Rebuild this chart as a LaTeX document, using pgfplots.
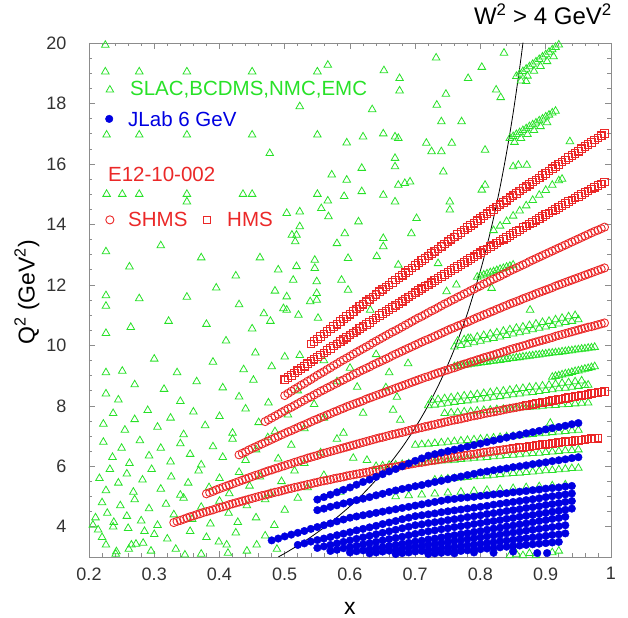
\documentclass[border=0pt]{standalone}
\usepackage{fontspec}
\setmainfont{Liberation Sans}
\usepackage{pgfplots}
\pgfplotsset{compat=1.18}
\definecolor{tgreen}{RGB}{40,225,40}
\definecolor{tblue}{RGB}{0,0,225}
\definecolor{tred}{RGB}{235,40,40}
\definecolor{framegray}{RGB}{140,140,140}
\pgfplotsset{
  slacmk/.style={only marks, color=tgreen, mark=triangle, mark size=4.4pt, line width=0.8pt},
  jlabmk/.style={only marks, color=tblue, mark=*, mark size=3.8pt},
  shmsmk/.style={only marks, color=tred, mark=o, mark size=4.1pt, line width=0.9pt},
  hmsmk/.style={only marks, color=tred, mark=square, mark size=3.8pt, line width=1.1pt},
}
\begin{document}
\begin{tikzpicture}
\begin{axis}[
  scale only axis, width=522bp, height=514bp,
  xmin=0.2, xmax=1, ymin=3, ymax=20,
  xtick={0.2,0.3,0.4,0.5,0.6,0.7,0.8,0.9,1},
  xticklabels={0.2,0.3,0.4,0.5,0.6,0.7,0.8,0.9,1},
  ytick={4,6,8,10,12,14,16,18,20},
  minor x tick num=4, minor y tick num=3,
  tick align=inside,
  major tick length=6bp, minor tick length=3.5bp,
  axis line style={framegray, line width=0.7pt},
  every tick/.style={framegray, line width=0.6pt},
  tick label style={font=\fontsize{18bp}{20bp}\selectfont, text=black!80},
  xticklabel style={yshift=-7bp},
  yticklabel style={xshift=-19bp},
  /pgf/number format/assume math mode=true,
  xlabel={x},
  xlabel style={font=\fontsize{23bp}{25bp}\selectfont, at={(axis description cs:0.5,0)}, anchor=base, yshift=-57bp},
  ylabel={Q\textsuperscript{2} (GeV\textsuperscript{2})},
  ylabel style={font=\fontsize{23bp}{25bp}\selectfont, at={(axis description cs:-0.119,0.515)}, anchor=center},
]
% ---------- SLAC, BCDMS, NMC, EMC : scattered points ----------
\addplot[slacmk] coordinates {
(0.225,19.93)(0.225,19.05)(0.277,19.05)(0.350,19.05)(0.450,19.05)(0.550,19.05)(0.566,19.27)(0.652,19.09)(0.676,18.83)(0.676,18.42)(0.732,19.51)(0.747,18.31)(0.781,18.83)(0.802,19.2)(0.836,19.67)(0.824,18.45)(0.831,18.2)(0.870,18.73)
(0.523,17.9)(0.634,17.8)(0.733,17.95)(0.740,17.4)(0.771,17.4)
(0.227,16.96)(0.277,16.96)(0.350,16.96)(0.450,16.96)(0.550,16.96)(0.595,16.7)(0.620,16.9)(0.651,17.0)(0.669,16.9)(0.674,16.85)(0.717,16.69)(0.725,16.41)(0.740,16.41)(0.756,16.69)(0.807,16.46)(0.937,16.74)(0.477,16.35)
(0.669,16.19)(0.669,15.91)(0.618,15.86)(0.572,15.64)(0.743,15.74)(0.595,15.47)(0.674,15.3)(0.684,15.36)(0.692,15.41)(0.802,15.14)(0.807,15.3)(0.850,15.91)(0.858,15.96)(0.871,15.96)
(0.227,15.0)(0.251,15.0)(0.277,15.0)(0.350,15.0)(0.436,15.0)(0.450,15.0)(0.550,15.0)(0.591,14.93)(0.618,15.09)(0.651,14.97)(0.350,14.75)(0.566,14.78)(0.556,14.53)(0.503,14.37)(0.523,14.42)(0.567,14.26)(0.669,14.75)(0.702,14.2)(0.753,14.75)(0.753,14.48)(0.613,14.09)
(0.523,13.93)(0.511,13.65)(0.518,13.65)(0.592,13.7)(0.516,13.43)(0.580,13.37)(0.651,13.27)(0.651,13.54)(0.694,13.7)
(0.546,12.82)(0.546,12.55)(0.597,12.88)(0.641,12.94)(0.735,12.71)(0.518,12.61)(0.513,12.16)(0.503,11.61)(0.498,11.22)(0.503,11.17)(0.549,12.11)(0.549,11.72)(0.539,11.45)(0.549,11.5)(0.587,12.16)(0.597,11.83)(0.674,12.66)(0.748,11.78)(0.763,12.0)(0.817,11.89)(0.521,11.0)(0.551,10.9)(0.631,11.17)(0.876,11.17)(0.781,10.23)(0.500,9.62)(0.523,9.67)(0.689,9.4)
(0.611,8.62)(0.672,8.29)(0.666,7.86)(0.677,7.53)(0.620,7.76)(0.605,6.27)(0.626,6.2)(0.907,7.43)
(0.226,13.1)(0.262,12.6)(0.31,13.3)(0.372,12.9)(0.425,12.3)(0.462,12.9)(0.49,12.5)
(0.226,11.65)(0.226,11.3)(0.277,11.55)(0.35,11.6)(0.395,11.9)(0.43,11.35)(0.468,11.05)(0.485,11.8)
(0.226,10.4)(0.264,10.6)(0.322,10.8)(0.38,10.7)(0.41,10.15)(0.45,10.55)(0.478,10.8)
(0.226,9.1)(0.251,9.15)(0.3,9.55)(0.335,9.1)(0.39,9.45)(0.437,9.2)(0.455,9.75)(0.48,9.3)(0.56,9.5)(0.60,9.25)(0.64,9.7)(0.66,9.1)
(0.226,8.4)(0.245,8.2)(0.27,8.7)(0.315,8.55)(0.34,8.15)(0.365,8.8)(0.405,8.6)(0.43,8.3)(0.452,8.85)(0.475,8.1)(0.52,8.5)(0.545,8.05)(0.58,8.8)(0.655,8.6)
(0.222,7.4)(0.237,7.75)(0.255,7.2)(0.27,7.55)(0.29,7.85)(0.305,7.3)(0.325,7.6)(0.345,7.05)(0.36,7.8)(0.378,7.35)(0.4,7.65)(0.42,7.1)(0.44,7.9)(0.46,7.45)(0.485,7.15)(0.505,7.7)(0.53,7.25)(0.56,7.6)(0.59,7.1)
(0.222,6.8)(0.236,6.3)(0.25,6.6)(0.262,6.1)(0.278,6.85)(0.292,6.35)(0.31,6.6)(0.325,6.15)(0.34,6.75)(0.355,6.4)(0.372,6.05)(0.39,6.65)(0.405,6.3)(0.42,6.9)(0.44,6.2)(0.456,6.55)(0.474,6.95)(0.49,6.25)(0.51,6.7)(0.53,6.1)(0.555,6.45)(0.58,6.9)
(0.216,5.6)(0.226,5.2)(0.232,5.9)(0.245,5.45)(0.258,5.75)(0.268,5.15)(0.282,5.55)(0.296,5.9)(0.31,5.25)(0.326,5.65)(0.34,5.05)(0.352,5.45)(0.368,5.85)(0.384,5.3)(0.4,5.6)(0.415,5.1)(0.43,5.8)(0.446,5.35)(0.462,5.65)(0.478,5.1)(0.495,5.5)(0.515,5.85)(0.535,5.3)(0.56,5.7)(0.585,5.15)
(0.21,4.3)(0.22,4.8)(0.228,4.45)(0.238,4.15)(0.248,4.7)(0.258,4.35)(0.27,4.9)(0.28,4.2)(0.292,4.6)(0.305,4.05)(0.318,4.75)(0.33,4.4)(0.345,4.95)(0.358,4.25)(0.372,4.65)(0.386,4.1)(0.4,4.85)(0.414,4.45)(0.428,4.15)(0.442,4.7)(0.456,4.3)(0.47,4.9)(0.484,4.05)(0.5,4.55)(0.52,4.95)
(0.206,4.06)(0.214,3.9)(0.237,4.0)(0.26,3.95)(0.226,3.4)(0.242,3.18)(0.265,3.4)(0.241,3.1)(0.261,3.26)(0.272,3.43)(0.283,3.46)(0.295,3.2)(0.333,3.26)(0.347,3.07)(0.372,3.1)(0.399,3.5)(0.411,3.4)(0.413,3.13)(0.442,3.2)(0.457,3.4)(0.488,3.26)(0.3,3.75)(0.32,3.6)(0.355,3.85)(0.38,3.65)(0.425,3.8)(0.47,3.7)(0.22,3.65)(0.285,3.85)
};
% ---------- SLAC etc. : dense bands ----------
\addplot[slacmk] coordinates {
(0.855,18.90)(0.86,18.98)(0.865,19.06)(0.87,19.14)(0.875,19.22)(0.88,19.30)(0.885,19.38)(0.89,19.46)(0.895,19.54)(0.90,19.62)(0.905,19.70)(0.91,19.78)(0.915,19.86)(0.92,19.94)
(0.862,18.75)(0.872,18.91)(0.882,19.07)(0.892,19.23)(0.902,19.39)(0.912,19.55)
(0.845,16.85)(0.85,16.91)(0.855,16.98)(0.86,17.04)(0.865,17.11)(0.87,17.17)(0.875,17.24)(0.88,17.30)(0.885,17.36)(0.89,17.43)(0.895,17.49)(0.90,17.56)(0.905,17.62)(0.91,17.69)(0.915,17.75)
(0.852,16.72)(0.862,16.85)(0.872,16.98)(0.882,17.11)(0.892,17.24)(0.902,17.37)
(0.82,13.8)(0.83,13.95)(0.84,14.1)(0.85,14.28)(0.86,14.45)(0.87,14.62)(0.88,14.8)(0.89,14.97)(0.90,15.13)(0.91,15.3)(0.92,15.45)(0.925,15.5)
(0.795,12.26)(0.80,12.30)(0.805,12.33)(0.81,12.37)(0.815,12.41)(0.82,12.44)(0.825,12.48)(0.83,12.52)(0.835,12.55)(0.84,12.59)(0.845,12.62)(0.85,12.66)
(0.76,9.95)(0.77,10.00)(0.78,10.04)(0.79,10.09)(0.80,10.14)(0.81,10.19)(0.82,10.23)(0.83,10.28)(0.84,10.33)(0.85,10.38)(0.86,10.42)(0.87,10.47)(0.88,10.52)(0.89,10.57)(0.90,10.61)(0.91,10.66)(0.92,10.71)(0.93,10.76)(0.94,10.80)(0.95,10.85)
(0.765,10.14)(0.775,10.19)(0.785,10.23)(0.795,10.28)(0.805,10.33)(0.815,10.38)(0.825,10.42)(0.835,10.47)(0.845,10.52)(0.855,10.57)(0.865,10.61)(0.875,10.66)(0.885,10.71)(0.895,10.76)(0.905,10.80)(0.915,10.85)(0.925,10.90)(0.935,10.95)(0.945,10.99)
(0.76,9.30)(0.77,9.33)(0.78,9.36)(0.79,9.39)(0.80,9.42)(0.81,9.45)(0.82,9.48)(0.83,9.51)(0.84,9.54)(0.85,9.57)(0.86,9.60)(0.87,9.63)(0.88,9.66)(0.89,9.69)(0.90,9.72)(0.91,9.75)(0.92,9.77)(0.93,9.80)(0.94,9.83)(0.95,9.86)(0.96,9.89)(0.97,9.92)(0.975,9.94)
(0.765,9.32)(0.775,9.35)(0.785,9.38)(0.795,9.41)(0.805,9.44)(0.815,9.47)(0.825,9.50)(0.835,9.53)(0.845,9.56)(0.855,9.59)(0.865,9.62)(0.875,9.65)(0.885,9.68)(0.895,9.71)(0.905,9.74)(0.915,9.76)(0.925,9.79)(0.935,9.82)(0.945,9.85)(0.955,9.88)(0.965,9.91)
(0.91,8.95)(0.915,8.98)(0.92,9.0)(0.925,9.03)(0.93,9.06)(0.935,9.08)(0.94,9.11)(0.945,9.14)(0.95,9.16)(0.955,9.19)(0.96,9.22)(0.965,9.24)(0.97,9.27)(0.975,9.30)
(0.72,8.01)(0.73,8.03)(0.74,8.06)(0.75,8.09)(0.76,8.12)(0.77,8.15)(0.78,8.17)(0.79,8.20)(0.80,8.23)(0.81,8.26)(0.82,8.29)(0.83,8.31)(0.84,8.34)(0.85,8.37)(0.86,8.40)(0.87,8.43)(0.88,8.45)(0.89,8.48)(0.90,8.51)(0.91,8.54)(0.92,8.57)(0.93,8.59)(0.94,8.62)(0.95,8.65)(0.96,8.68)(0.965,8.69)
(0.725,8.19)(0.735,8.21)(0.745,8.24)(0.755,8.27)(0.765,8.30)(0.775,8.33)(0.785,8.35)(0.795,8.38)(0.805,8.41)(0.815,8.44)(0.825,8.47)(0.835,8.49)(0.845,8.52)(0.855,8.55)(0.865,8.58)(0.875,8.61)(0.885,8.63)(0.895,8.66)(0.905,8.69)(0.915,8.72)(0.925,8.75)(0.935,8.77)(0.945,8.80)(0.955,8.83)
(0.745,7.75)(0.755,7.77)(0.765,7.78)(0.775,7.80)(0.785,7.81)(0.795,7.83)(0.805,7.85)(0.815,7.86)(0.825,7.88)(0.835,7.89)(0.845,7.91)(0.855,7.93)(0.865,7.94)(0.875,7.96)(0.885,7.97)(0.895,7.99)(0.905,8.01)(0.915,8.02)(0.925,8.04)(0.935,8.05)(0.945,8.07)(0.955,8.09)(0.965,8.10)
(0.70,6.70)(0.71,6.72)(0.72,6.74)(0.73,6.76)(0.74,6.78)(0.75,6.80)(0.76,6.82)(0.77,6.84)(0.78,6.86)(0.79,6.88)(0.80,6.90)(0.81,6.92)(0.82,6.94)(0.83,6.96)(0.84,6.98)(0.85,7.00)(0.86,7.02)(0.87,7.04)(0.88,7.06)(0.89,7.08)(0.90,7.10)(0.91,7.12)(0.92,7.14)(0.93,7.16)(0.94,7.18)(0.95,7.20)
(0.64,6.00)(0.65,6.02)(0.66,6.04)(0.67,6.05)(0.68,6.07)(0.69,6.09)(0.70,6.11)(0.71,6.12)(0.72,6.14)(0.73,6.16)(0.74,6.18)(0.75,6.19)(0.76,6.21)(0.77,6.23)(0.78,6.25)(0.79,6.27)(0.80,6.28)(0.81,6.30)(0.82,6.32)(0.83,6.34)(0.84,6.36)(0.85,6.37)(0.86,6.39)(0.87,6.41)(0.88,6.43)(0.89,6.44)(0.90,6.46)(0.91,6.48)(0.92,6.50)(0.93,6.52)(0.94,6.53)(0.95,6.55)
(0.73,5.55)(0.74,5.57)(0.75,5.59)(0.76,5.60)(0.77,5.62)(0.78,5.64)(0.79,5.66)(0.80,5.68)(0.81,5.69)(0.82,5.71)(0.83,5.73)(0.84,5.75)(0.85,5.77)(0.86,5.78)(0.87,5.80)(0.88,5.82)(0.89,5.84)(0.90,5.86)(0.91,5.87)(0.92,5.89)(0.93,5.91)(0.94,5.93)(0.95,5.94)
(0.67,5.00)(0.69,5.03)(0.71,5.06)(0.73,5.09)(0.75,5.12)(0.77,5.15)(0.79,5.18)(0.81,5.21)(0.83,5.24)(0.85,5.27)(0.87,5.30)(0.89,5.33)(0.91,5.36)(0.93,5.39)
(0.845,3.05)(0.855,3.1)(0.865,3.05)(0.875,3.12)(0.885,3.05)(0.91,3.15)(0.92,3.2)
};
% ---------- E12-10-002 SHMS (circles) ----------
\addplot[shmsmk] coordinates {
(0.33,4.14)(0.34,4.21)(0.35,4.29)(0.36,4.36)(0.37,4.43)(0.38,4.50)(0.39,4.56)(0.40,4.63)(0.41,4.69)(0.42,4.76)(0.43,4.82)(0.44,4.88)(0.45,4.94)(0.46,5.00)(0.47,5.05)(0.48,5.11)(0.49,5.16)(0.50,5.22)(0.51,5.27)(0.52,5.32)(0.53,5.37)(0.54,5.42)(0.55,5.47)(0.56,5.52)(0.57,5.56)(0.58,5.61)(0.59,5.65)(0.60,5.70)(0.61,5.74)(0.62,5.78)(0.63,5.82)(0.64,5.87)(0.65,5.91)(0.66,5.95)(0.67,5.98)(0.68,6.02)(0.69,6.06)(0.70,6.10)(0.71,6.13)(0.72,6.17)(0.73,6.20)(0.74,6.24)(0.75,6.27)(0.76,6.31)(0.77,6.34)(0.78,6.37)(0.79,6.40)(0.80,6.44)(0.81,6.47)(0.82,6.50)(0.83,6.53)(0.84,6.56)(0.85,6.59)(0.86,6.62)
(0.335,4.18)(0.345,4.25)(0.355,4.33)(0.365,4.40)(0.375,4.47)(0.385,4.53)(0.395,4.60)(0.405,4.66)(0.415,4.73)(0.425,4.79)(0.435,4.85)(0.445,4.91)(0.455,4.97)(0.465,5.03)(0.475,5.08)(0.485,5.14)(0.495,5.19)(0.505,5.25)(0.515,5.30)(0.525,5.35)(0.535,5.40)(0.545,5.45)(0.555,5.50)(0.565,5.54)(0.575,5.59)(0.585,5.63)(0.595,5.68)(0.605,5.72)(0.615,5.76)(0.625,5.80)(0.635,5.85)(0.645,5.89)(0.655,5.93)(0.665,5.97)(0.675,6.00)(0.685,6.04)(0.695,6.08)(0.705,6.12)(0.715,6.15)(0.725,6.19)(0.735,6.22)(0.745,6.26)(0.755,6.29)(0.765,6.33)(0.775,6.36)(0.785,6.39)(0.795,6.42)(0.805,6.46)(0.815,6.49)(0.825,6.52)(0.835,6.55)(0.845,6.58)(0.855,6.61)
(0.38,5.09)(0.39,5.17)(0.40,5.26)(0.41,5.34)(0.42,5.42)(0.43,5.50)(0.44,5.58)(0.45,5.66)(0.46,5.73)(0.47,5.81)(0.48,5.88)(0.49,5.95)(0.50,6.02)(0.51,6.09)(0.52,6.16)(0.53,6.23)(0.54,6.30)(0.55,6.36)(0.56,6.43)(0.57,6.49)(0.58,6.55)(0.59,6.61)(0.60,6.67)(0.61,6.73)(0.62,6.79)(0.63,6.85)(0.64,6.91)(0.65,6.96)(0.66,7.02)(0.67,7.07)(0.68,7.12)(0.69,7.18)(0.70,7.23)(0.71,7.28)(0.72,7.33)(0.73,7.38)(0.74,7.43)(0.75,7.48)(0.76,7.53)(0.77,7.57)(0.78,7.62)(0.79,7.67)(0.80,7.71)(0.81,7.76)(0.82,7.80)(0.83,7.84)(0.84,7.89)(0.85,7.93)(0.86,7.97)(0.87,8.01)(0.88,8.05)
(0.385,5.13)(0.395,5.22)(0.405,5.30)(0.415,5.38)(0.425,5.46)(0.435,5.54)(0.445,5.62)(0.455,5.70)(0.465,5.77)(0.475,5.85)(0.485,5.92)(0.495,5.99)(0.505,6.06)(0.515,6.13)(0.525,6.20)(0.535,6.27)(0.545,6.33)(0.555,6.40)(0.565,6.46)(0.575,6.52)(0.585,6.58)(0.595,6.64)(0.605,6.70)(0.615,6.76)(0.625,6.82)(0.635,6.88)(0.645,6.94)(0.655,6.99)(0.665,7.05)(0.675,7.10)(0.685,7.15)(0.695,7.21)(0.705,7.26)(0.715,7.31)(0.725,7.36)(0.735,7.41)(0.745,7.46)(0.755,7.51)(0.765,7.55)(0.775,7.60)(0.785,7.65)(0.795,7.69)(0.805,7.74)(0.815,7.78)(0.825,7.82)(0.835,7.87)(0.845,7.91)(0.855,7.95)(0.865,7.99)(0.875,8.03)
(0.43,6.38)(0.44,6.48)(0.45,6.59)(0.46,6.69)(0.47,6.79)(0.48,6.89)(0.49,6.99)(0.50,7.09)(0.51,7.18)(0.52,7.28)(0.53,7.37)(0.54,7.47)(0.55,7.56)(0.56,7.65)(0.57,7.74)(0.58,7.83)(0.59,7.92)(0.60,8.01)(0.61,8.09)(0.62,8.17)(0.63,8.26)(0.64,8.34)(0.65,8.42)(0.66,8.50)(0.67,8.58)(0.68,8.66)(0.69,8.74)(0.70,8.82)(0.71,8.90)(0.72,8.97)(0.73,9.05)(0.74,9.12)(0.75,9.19)(0.76,9.26)(0.77,9.34)(0.78,9.41)(0.79,9.48)(0.80,9.55)(0.81,9.62)(0.82,9.68)(0.83,9.75)(0.84,9.82)(0.85,9.89)(0.86,9.95)(0.87,10.01)(0.88,10.08)(0.89,10.14)(0.90,10.20)(0.91,10.26)(0.92,10.33)(0.93,10.39)(0.94,10.45)(0.95,10.51)(0.96,10.57)(0.97,10.62)(0.98,10.68)(0.99,10.74)
(0.435,6.43)(0.445,6.54)(0.455,6.64)(0.465,6.74)(0.475,6.84)(0.485,6.94)(0.495,7.04)(0.505,7.14)(0.515,7.23)(0.525,7.33)(0.535,7.42)(0.545,7.52)(0.555,7.61)(0.565,7.70)(0.575,7.79)(0.585,7.88)(0.595,7.97)(0.605,8.05)(0.615,8.13)(0.625,8.22)(0.635,8.30)(0.645,8.38)(0.655,8.46)(0.665,8.54)(0.675,8.62)(0.685,8.70)(0.695,8.78)(0.705,8.86)(0.715,8.94)(0.725,9.01)(0.735,9.09)(0.745,9.16)(0.755,9.23)(0.765,9.30)(0.775,9.38)(0.785,9.45)(0.795,9.52)(0.805,9.59)(0.815,9.65)(0.825,9.72)(0.835,9.79)(0.845,9.86)(0.855,9.92)(0.865,9.98)(0.875,10.05)(0.885,10.11)(0.895,10.17)(0.905,10.23)(0.915,10.30)(0.925,10.36)(0.935,10.42)(0.945,10.48)(0.955,10.54)(0.965,10.60)(0.975,10.65)(0.985,10.71)
(0.47,7.48)(0.48,7.60)(0.49,7.72)(0.50,7.84)(0.51,7.95)(0.52,8.07)(0.53,8.19)(0.54,8.30)(0.55,8.42)(0.56,8.53)(0.57,8.64)(0.58,8.75)(0.59,8.86)(0.60,8.97)(0.61,9.08)(0.62,9.19)(0.63,9.29)(0.64,9.40)(0.65,9.50)(0.66,9.60)(0.67,9.71)(0.68,9.81)(0.69,9.91)(0.70,10.01)(0.71,10.11)(0.72,10.20)(0.73,10.30)(0.74,10.40)(0.75,10.50)(0.76,10.59)(0.77,10.68)(0.78,10.77)(0.79,10.87)(0.80,10.96)(0.81,11.05)(0.82,11.14)(0.83,11.23)(0.84,11.32)(0.85,11.41)(0.86,11.49)(0.87,11.58)(0.88,11.66)(0.89,11.75)(0.90,11.83)(0.91,11.91)(0.92,12.00)(0.93,12.08)(0.94,12.16)(0.95,12.24)(0.96,12.32)(0.97,12.40)(0.98,12.48)(0.99,12.56)
(0.475,7.54)(0.485,7.66)(0.495,7.78)(0.505,7.90)(0.515,8.01)(0.525,8.13)(0.535,8.25)(0.545,8.36)(0.555,8.48)(0.565,8.59)(0.575,8.70)(0.585,8.81)(0.595,8.92)(0.605,9.03)(0.615,9.14)(0.625,9.24)(0.635,9.35)(0.645,9.45)(0.655,9.55)(0.665,9.66)(0.675,9.76)(0.685,9.86)(0.695,9.96)(0.705,10.06)(0.715,10.16)(0.725,10.25)(0.735,10.35)(0.745,10.45)(0.755,10.55)(0.765,10.64)(0.775,10.73)(0.785,10.82)(0.795,10.92)(0.805,11.01)(0.815,11.10)(0.825,11.19)(0.835,11.28)(0.845,11.37)(0.855,11.45)(0.865,11.54)(0.875,11.62)(0.885,11.71)(0.895,11.79)(0.905,11.87)(0.915,11.96)(0.925,12.04)(0.935,12.12)(0.945,12.20)(0.955,12.28)(0.965,12.36)(0.975,12.44)(0.985,12.52)
(0.50,8.34)(0.51,8.48)(0.52,8.61)(0.53,8.74)(0.54,8.87)(0.55,9.01)(0.56,9.13)(0.57,9.26)(0.58,9.39)(0.59,9.52)(0.60,9.64)(0.61,9.77)(0.62,9.89)(0.63,10.01)(0.64,10.14)(0.65,10.26)(0.66,10.38)(0.67,10.49)(0.68,10.61)(0.69,10.73)(0.70,10.85)(0.71,10.96)(0.72,11.08)(0.73,11.19)(0.74,11.31)(0.75,11.42)(0.76,11.53)(0.77,11.64)(0.78,11.75)(0.79,11.86)(0.80,11.97)(0.81,12.08)(0.82,12.19)(0.83,12.29)(0.84,12.40)(0.85,12.51)(0.86,12.61)(0.87,12.71)(0.88,12.82)(0.89,12.92)(0.90,13.02)(0.91,13.12)(0.92,13.22)(0.93,13.32)(0.94,13.42)(0.95,13.52)(0.96,13.62)(0.97,13.72)(0.98,13.81)(0.99,13.91)
(0.505,8.41)(0.515,8.55)(0.525,8.68)(0.535,8.81)(0.545,8.94)(0.555,9.07)(0.565,9.20)(0.575,9.33)(0.585,9.46)(0.595,9.58)(0.605,9.71)(0.615,9.83)(0.625,9.95)(0.635,10.08)(0.645,10.20)(0.655,10.32)(0.665,10.44)(0.675,10.55)(0.685,10.67)(0.695,10.79)(0.705,10.91)(0.715,11.02)(0.725,11.14)(0.735,11.25)(0.745,11.37)(0.755,11.48)(0.765,11.59)(0.775,11.70)(0.785,11.81)(0.795,11.92)(0.805,12.03)(0.815,12.14)(0.825,12.24)(0.835,12.35)(0.845,12.46)(0.855,12.56)(0.865,12.66)(0.875,12.77)(0.885,12.87)(0.895,12.97)(0.905,13.07)(0.915,13.17)(0.925,13.27)(0.935,13.37)(0.945,13.47)(0.955,13.57)(0.965,13.67)(0.975,13.77)(0.985,13.86)
(0.58,10.05)(0.59,10.19)(0.60,10.34)(0.61,10.48)(0.62,10.62)(0.67,11.32)(0.68,11.46)(0.69,11.60)(0.70,11.74)(0.71,11.87)(0.72,12.00)
(0.61,11.20)(0.62,11.36)(0.63,11.52)(0.64,11.68)(0.65,11.85)(0.72,12.96)(0.73,13.11)(0.74,13.27)(0.75,13.43)(0.76,13.58)(0.83,14.65)(0.84,14.80)(0.85,14.95)(0.86,15.10)(0.87,15.25)
};
% ---------- E12-10-002 HMS (squares) ----------
\addplot[hmsmk] coordinates {
(0.85,6.59)(0.86,6.62)(0.87,6.64)(0.88,6.67)(0.89,6.70)(0.90,6.73)(0.91,6.75)(0.92,6.78)(0.93,6.81)(0.94,6.83)(0.95,6.86)(0.96,6.88)(0.97,6.91)(0.98,6.93)
(0.865,6.63)(0.875,6.66)(0.885,6.69)(0.895,6.72)(0.905,6.74)(0.915,6.77)(0.925,6.80)(0.935,6.82)(0.945,6.85)(0.955,6.87)(0.965,6.90)(0.975,6.92)
(0.87,8.01)(0.88,8.05)(0.89,8.09)(0.90,8.13)(0.91,8.17)(0.92,8.21)(0.93,8.25)(0.94,8.29)(0.95,8.33)(0.96,8.36)(0.97,8.40)(0.98,8.44)(0.99,8.47)
(0.885,8.07)(0.895,8.11)(0.905,8.15)(0.915,8.19)(0.925,8.23)(0.935,8.27)(0.945,8.31)(0.955,8.35)(0.965,8.38)(0.975,8.42)(0.985,8.46)
(0.50,8.86)(0.51,9.01)(0.52,9.16)(0.53,9.31)(0.54,9.46)(0.55,9.61)(0.56,9.75)(0.57,9.90)(0.58,10.05)(0.59,10.19)(0.60,10.34)(0.61,10.48)(0.62,10.62)(0.63,10.76)(0.64,10.91)(0.65,11.05)(0.66,11.18)(0.67,11.32)(0.68,11.46)(0.69,11.60)(0.70,11.74)(0.71,11.87)(0.72,12.00)(0.73,12.14)(0.74,12.27)(0.75,12.41)(0.76,12.54)(0.77,12.67)(0.78,12.80)(0.79,12.93)(0.80,13.06)(0.81,13.19)(0.82,13.32)(0.83,13.45)(0.84,13.57)(0.85,13.70)(0.86,13.82)(0.87,13.95)(0.88,14.07)(0.89,14.20)(0.90,14.32)(0.91,14.44)(0.92,14.56)(0.93,14.69)(0.94,14.81)(0.95,14.93)(0.96,15.05)(0.97,15.17)(0.98,15.28)(0.99,15.40)
(0.505,8.94)(0.515,9.09)(0.525,9.24)(0.535,9.39)(0.545,9.54)(0.555,9.68)(0.565,9.83)(0.575,9.98)(0.585,10.12)(0.595,10.27)(0.605,10.41)(0.615,10.55)(0.625,10.69)(0.635,10.84)(0.645,10.98)(0.655,11.12)(0.665,11.25)(0.675,11.39)(0.685,11.53)(0.695,11.67)(0.705,11.81)(0.715,11.94)(0.725,12.07)(0.735,12.21)(0.745,12.34)(0.755,12.48)(0.765,12.61)(0.775,12.74)(0.785,12.87)(0.795,13.00)(0.805,13.13)(0.815,13.26)(0.825,13.39)(0.835,13.51)(0.845,13.64)(0.855,13.76)(0.865,13.89)(0.875,14.01)(0.885,14.14)(0.895,14.26)(0.905,14.38)(0.915,14.50)(0.925,14.63)(0.935,14.75)(0.945,14.87)(0.955,14.99)(0.965,15.11)(0.975,15.23)(0.985,15.34)
(0.54,10.04)(0.55,10.21)(0.56,10.37)(0.57,10.54)(0.58,10.70)(0.59,10.87)(0.60,11.03)(0.61,11.20)(0.62,11.36)(0.63,11.52)(0.64,11.68)(0.65,11.85)(0.66,12.00)(0.67,12.16)(0.68,12.32)(0.69,12.48)(0.70,12.64)(0.71,12.80)(0.72,12.96)(0.73,13.11)(0.74,13.27)(0.75,13.43)(0.76,13.58)(0.77,13.73)(0.78,13.89)(0.79,14.04)(0.80,14.20)(0.81,14.35)(0.82,14.50)(0.83,14.65)(0.84,14.80)(0.85,14.95)(0.86,15.10)(0.87,15.25)(0.88,15.40)(0.89,15.54)(0.90,15.69)(0.91,15.84)(0.92,15.98)(0.93,16.13)(0.94,16.28)(0.95,16.42)(0.96,16.57)(0.97,16.71)(0.98,16.86)(0.99,17.00)
(0.545,10.13)(0.555,10.29)(0.565,10.46)(0.575,10.62)(0.585,10.79)(0.595,10.95)(0.605,11.12)(0.615,11.28)(0.625,11.44)(0.635,11.60)(0.645,11.77)(0.655,11.93)(0.665,12.08)(0.675,12.24)(0.685,12.40)(0.695,12.56)(0.705,12.72)(0.715,12.88)(0.725,13.04)(0.735,13.19)(0.745,13.35)(0.755,13.51)(0.765,13.66)(0.775,13.81)(0.785,13.97)(0.795,14.12)(0.805,14.28)(0.815,14.43)(0.825,14.58)(0.835,14.73)(0.845,14.88)(0.855,15.03)(0.865,15.18)(0.875,15.33)(0.885,15.47)(0.895,15.62)(0.905,15.77)(0.915,15.91)(0.925,16.06)(0.935,16.21)(0.945,16.35)(0.955,16.50)(0.965,16.64)(0.975,16.79)(0.985,16.93)
};
% ---------- JLab 6 GeV ----------
\addplot[jlabmk] coordinates {
(0.55,4.90)(0.56,4.98)(0.57,5.06)(0.58,5.14)(0.59,5.22)(0.60,5.30)(0.61,5.39)(0.62,5.48)(0.63,5.56)(0.64,5.65)(0.65,5.74)(0.66,5.83)(0.67,5.91)(0.68,6.00)(0.69,6.09)(0.70,6.18)(0.71,6.26)(0.72,6.35)(0.73,6.40)(0.74,6.45)(0.75,6.50)(0.76,6.55)(0.77,6.60)(0.78,6.65)(0.79,6.70)(0.80,6.75)(0.81,6.80)(0.82,6.85)(0.83,6.90)(0.84,6.95)(0.85,7.00)(0.86,7.04)(0.87,7.09)(0.88,7.13)(0.89,7.17)(0.90,7.22)(0.91,7.26)(0.92,7.30)(0.93,7.34)(0.94,7.39)(0.95,7.43)
(0.55,4.55)(0.56,4.60)(0.57,4.66)(0.58,4.71)(0.59,4.77)(0.60,4.82)(0.61,4.88)(0.62,4.93)(0.63,4.98)(0.64,5.04)(0.65,5.09)(0.66,5.15)(0.67,5.20)(0.68,5.25)(0.69,5.29)(0.70,5.34)(0.71,5.38)(0.72,5.43)(0.73,5.48)(0.74,5.52)(0.75,5.57)(0.76,5.62)(0.77,5.66)(0.78,5.71)(0.79,5.75)(0.80,5.80)(0.81,5.83)(0.82,5.87)(0.83,5.90)(0.84,5.93)(0.85,5.97)(0.86,6.00)(0.87,6.03)(0.88,6.07)(0.89,6.10)(0.90,6.13)(0.91,6.17)(0.92,6.20)(0.93,6.23)(0.94,6.27)(0.95,6.30)
(0.48,3.55)(0.49,3.61)(0.50,3.68)(0.51,3.74)(0.52,3.80)(0.53,3.86)(0.54,3.93)(0.55,3.99)(0.56,4.05)(0.57,4.11)(0.58,4.18)(0.59,4.24)(0.60,4.30)(0.61,4.34)(0.62,4.38)(0.63,4.42)(0.64,4.46)(0.65,4.50)(0.66,4.54)(0.67,4.58)(0.68,4.62)(0.69,4.66)(0.70,4.70)(0.71,4.74)(0.72,4.78)(0.73,4.82)(0.74,4.86)(0.75,4.90)(0.76,4.92)(0.77,4.95)(0.78,4.97)(0.79,4.99)(0.80,5.02)(0.81,5.04)(0.82,5.07)(0.83,5.09)(0.84,5.11)(0.85,5.14)(0.86,5.16)(0.87,5.18)(0.88,5.21)(0.89,5.23)(0.90,5.26)(0.91,5.28)(0.92,5.30)(0.93,5.33)(0.94,5.35)
(0.52,3.40)(0.53,3.45)(0.54,3.51)(0.55,3.56)(0.56,3.61)(0.57,3.66)(0.58,3.72)(0.59,3.77)(0.60,3.82)(0.61,3.88)(0.62,3.93)(0.63,3.98)(0.64,4.03)(0.65,4.09)(0.66,4.14)(0.67,4.19)(0.68,4.25)(0.69,4.30)(0.70,4.35)(0.71,4.38)(0.72,4.41)(0.73,4.44)(0.74,4.48)(0.75,4.51)(0.76,4.54)(0.77,4.57)(0.78,4.60)(0.79,4.63)(0.80,4.66)(0.81,4.69)(0.82,4.73)(0.83,4.76)(0.84,4.79)(0.85,4.82)(0.86,4.85)(0.87,4.88)(0.88,4.91)(0.89,4.94)(0.90,4.98)(0.91,5.01)(0.92,5.04)(0.93,5.07)(0.94,5.10)
(0.55,3.30)(0.56,3.35)(0.57,3.40)(0.58,3.45)(0.59,3.50)(0.60,3.55)(0.61,3.60)(0.62,3.65)(0.63,3.70)(0.64,3.75)(0.65,3.80)(0.66,3.85)(0.67,3.90)(0.68,3.95)(0.69,4.00)(0.70,4.05)(0.71,4.08)(0.72,4.12)(0.73,4.15)(0.74,4.18)(0.75,4.22)(0.76,4.25)(0.77,4.28)(0.78,4.32)(0.79,4.35)(0.80,4.38)(0.81,4.42)(0.82,4.45)(0.83,4.48)(0.84,4.52)(0.85,4.55)(0.86,4.58)(0.87,4.62)(0.88,4.65)(0.89,4.68)(0.90,4.72)(0.91,4.75)(0.92,4.78)(0.93,4.82)(0.94,4.85)
(0.57,3.20)(0.58,3.24)(0.59,3.29)(0.60,3.33)(0.61,3.37)(0.62,3.42)(0.63,3.46)(0.64,3.50)(0.65,3.55)(0.66,3.59)(0.67,3.63)(0.68,3.67)(0.69,3.72)(0.70,3.76)(0.71,3.81)(0.72,3.85)(0.73,3.88)(0.74,3.92)(0.75,3.95)(0.76,3.99)(0.77,4.02)(0.78,4.05)(0.79,4.09)(0.80,4.12)(0.81,4.16)(0.82,4.19)(0.83,4.22)(0.84,4.26)(0.85,4.29)(0.86,4.33)(0.87,4.36)(0.88,4.39)(0.89,4.43)(0.90,4.46)(0.91,4.50)(0.92,4.53)(0.93,4.56)(0.94,4.60)
(0.60,3.15)(0.61,3.19)(0.62,3.22)(0.63,3.26)(0.64,3.29)(0.65,3.33)(0.66,3.36)(0.67,3.40)(0.68,3.44)(0.69,3.47)(0.70,3.51)(0.71,3.54)(0.72,3.58)(0.73,3.61)(0.74,3.65)(0.75,3.69)(0.76,3.72)(0.77,3.76)(0.78,3.79)(0.79,3.83)(0.80,3.86)(0.81,3.90)(0.82,3.94)(0.83,3.97)(0.84,4.01)(0.85,4.04)(0.86,4.08)(0.87,4.11)(0.88,4.15)(0.89,4.19)(0.90,4.22)(0.91,4.26)(0.92,4.29)(0.93,4.33)
(0.63,3.12)(0.64,3.15)(0.65,3.18)(0.66,3.21)(0.67,3.24)(0.68,3.28)(0.69,3.31)(0.70,3.34)(0.71,3.37)(0.72,3.40)(0.73,3.43)(0.74,3.46)(0.75,3.50)(0.76,3.53)(0.77,3.56)(0.78,3.59)(0.79,3.62)(0.80,3.65)(0.81,3.68)(0.82,3.71)(0.83,3.74)(0.84,3.78)(0.85,3.81)(0.86,3.84)(0.87,3.87)(0.88,3.90)(0.89,3.93)(0.90,3.96)(0.91,3.99)(0.92,4.02)(0.93,4.05)
(0.67,3.10)(0.68,3.13)(0.69,3.15)(0.70,3.18)(0.71,3.20)(0.72,3.23)(0.73,3.26)(0.74,3.28)(0.75,3.31)(0.76,3.33)(0.77,3.36)(0.78,3.39)(0.79,3.41)(0.80,3.44)(0.81,3.46)(0.82,3.49)(0.83,3.52)(0.84,3.54)(0.85,3.57)(0.86,3.60)(0.87,3.62)(0.88,3.65)(0.89,3.67)(0.90,3.70)(0.91,3.73)(0.92,3.75)(0.93,3.78)
(0.72,3.10)(0.73,3.12)(0.74,3.14)(0.75,3.16)(0.76,3.18)(0.77,3.20)(0.78,3.22)(0.79,3.24)(0.80,3.26)(0.81,3.28)(0.82,3.30)(0.83,3.32)(0.84,3.34)(0.85,3.36)(0.86,3.38)(0.87,3.40)(0.88,3.42)(0.89,3.44)(0.90,3.46)(0.91,3.48)(0.92,3.50)
(0.76,3.12)(0.79,3.15)(0.82,3.14)(0.85,3.18)(0.887,3.13)(0.902,3.13)
};
% ---------- W^2 = 4 GeV^2 ----------
\addplot[black, line width=0.8pt, no marks, smooth] coordinates {
(0.49,3.00)(0.50,3.12)(0.52,3.38)(0.54,3.66)(0.56,3.97)(0.58,4.31)(0.60,4.68)(0.62,5.09)(0.64,5.55)(0.66,6.06)(0.68,6.63)(0.70,7.28)(0.72,8.02)(0.74,8.88)(0.76,9.88)(0.78,11.06)(0.80,12.48)(0.81,13.30)(0.82,14.21)(0.83,15.23)(0.84,16.38)(0.85,17.68)(0.86,19.17)(0.8651,20.01)
};
% ---------- legend symbols ----------
\addplot[slacmk] coordinates {(0.232,18.45)};
\addplot[jlabmk] coordinates {(0.231,17.49)};
\addplot[shmsmk] coordinates {(0.232,14.15)};
\addplot[hmsmk] coordinates {(0.381,14.15)};
\node[anchor=west, inner sep=0pt, text=tgreen, font=\fontsize{20.5bp}{22bp}\selectfont] at (axis cs:0.2628,18.45) {SLAC,BCDMS,NMC,EMC};
\node[anchor=west, inner sep=0pt, text=tblue, font=\fontsize{20.5bp}{22bp}\selectfont] at (axis cs:0.2598,17.49) {JLab 6 GeV};
\node[anchor=west, inner sep=0pt, text=tred, font=\fontsize{20.5bp}{22bp}\selectfont] at (axis cs:0.229,15.64) {E12-10-002};
\node[anchor=west, inner sep=0pt, text=tred, font=\fontsize{20.5bp}{22bp}\selectfont] at (axis cs:0.2598,14.15) {SHMS};
\node[anchor=west, inner sep=0pt, text=tred, font=\fontsize{20.5bp}{22bp}\selectfont] at (axis cs:0.4115,14.15) {HMS};
\end{axis}
\node[anchor=base east, inner sep=0pt, font=\fontsize{24bp}{26bp}\selectfont] at ([xshift=1bp,yshift=18bp]current axis.north east) {W\textsuperscript{2} > 4 GeV\textsuperscript{2}};
\path ([xshift=-89bp,yshift=-59bp]current axis.south west) rectangle ++(628bp,616bp);
\end{tikzpicture}
\end{document}
